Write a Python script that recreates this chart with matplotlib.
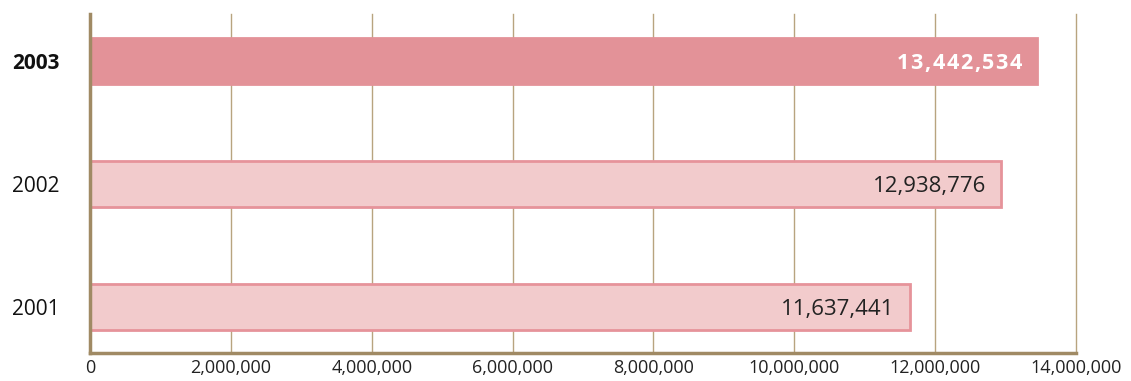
import matplotlib
matplotlib.use("Agg")
import matplotlib.pyplot as plt
from matplotlib.font_manager import FontProperties, findfont, get_font
from matplotlib.ticker import FuncFormatter

years = ["2001", "2002", "2003"]
values = [11637441, 12938776, 13442534]
highlight = "2003"
x_ticks = [0, 2000000, 4000000, 6000000, 8000000, 10000000, 12000000, 14000000]

FAMILY = ["Open Sans", "DejaVu Sans"]
plt.rcParams["font.family"] = FAMILY
DPI = 100

fig = plt.figure(figsize=(11.31, 3.81), dpi=DPI)
ax = fig.add_axes([90 / 1131, 28 / 381, 986 / 1131, 339 / 381])


def spaced_label(x, y, s, tracking, gap, size, weight, color):
    """Right-aligned label at data point (x, y), set glyph by glyph with extra tracking."""
    font = get_font(findfont(FontProperties(family=FAMILY, weight=weight)))
    font.set_size(size, DPI)
    advances = []
    for ch in s:
        g = font.load_char(ord(ch))
        advances.append(g.linearHoriAdvance / 65536)
    total = sum(advances) + tracking * (len(s) - 1)
    off = -gap - total
    for ch, adv in zip(s, advances):
        ax.annotate(ch, (x, y), xytext=(off, -8), textcoords="offset pixels",
                    ha="left", va="baseline", zorder=4, annotation_clip=False,
                    fontsize=size, fontweight=weight, color=color)
        off += adv + tracking


grid_col = "#b8a47f"
pos = list(range(len(years)))
for i, (yr, v) in enumerate(zip(years, values)):
    hi = yr == highlight
    face = "#e39298" if hi else "#f2cbcc"
    edge = "#e39298" if hi else "#e6939a"
    ax.barh(i, v, height=0.38, color=face, edgecolor=edge, linewidth=2, zorder=3)
    if hi:
        spaced_label(v, i, f"{v:,}", 1.6, 15, 15.5, "bold", "white")
    else:
        ax.annotate(f"{v:,}", (v, i), xytext=(-15, -8), textcoords="offset pixels",
                    ha="right", va="baseline", zorder=4, annotation_clip=False,
                    fontsize=16, color="#222222")

ax.set_xlim(0, x_ticks[-1])
ax.set_ylim(-0.374, 2.382)
ax.set_xticks(x_ticks)
ax.xaxis.set_major_formatter(FuncFormatter(lambda x, p: f"{int(x):,}"))
ax.set_yticks(pos)
ax.set_yticklabels(years)
for lbl, yr in zip(ax.get_yticklabels(), years):
    lbl.set_fontsize(15)
    if yr == highlight:
        lbl.set_fontweight("bold")
    lbl.set_color("#111111")
ax.tick_params(axis="x", length=0, pad=4, labelsize=13, labelcolor="#222222")
ax.tick_params(axis="y", length=0, pad=0)
for lbl in ax.get_yticklabels():
    lbl.set_horizontalalignment("left")
    lbl.set_x(-78 / 986)

ax.grid(axis="x", color=grid_col, linewidth=1, zorder=0)
for gl in ax.get_xgridlines():
    gl.set_clip_on(False)
ax.grid(axis="y", visible=False)
for s in ["top", "right"]:
    ax.spines[s].set_visible(False)
for s in ["left", "bottom"]:
    ax.spines[s].set_color("#a08a64")
    ax.spines[s].set_linewidth(2.5)
    ax.spines[s].set_zorder(5)

fig.savefig("out.png", dpi=DPI)
